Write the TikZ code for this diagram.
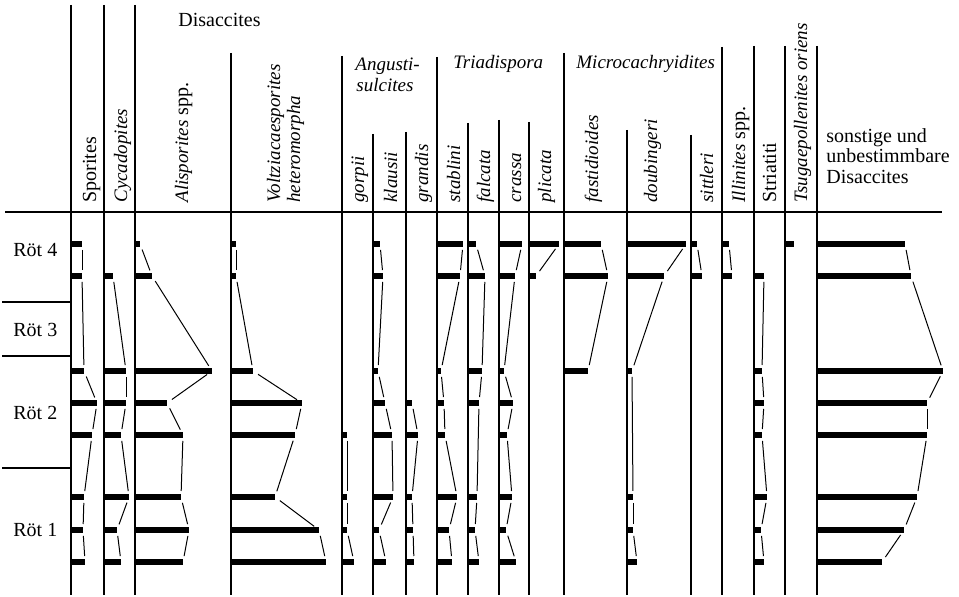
\documentclass[tikz,border=0pt]{standalone}
\usepackage{fontspec}
\setmainfont{Liberation Serif}

% y positions of the eight sample levels
\def\levels{{244,276,371,403,435,497,530,562}}

% italic taxon names, set a bit smaller
\newcommand{\gen}[1]{{\fontsize{9.5}{11}\selectfont\itshape #1}}

% one taxon profile: column x, list of level/length
\newcommand{\taxon}[2]{%
  \foreach \lv/\len [count=\i, remember=\lv as \plv (initially 1), remember=\len as \plen (initially 0)] in {#2} {
    \pgfmathsetmacro{\yy}{\levels[\lv-1]}
    \draw [bar] (#1,\yy) -- ++(\len,0);
    \ifnum\i>1
      \pgfmathsetmacro{\pyy}{\levels[\plv-1]}
      \draw [link] (#1+\plen,\pyy) -- (#1+\len,\yy);
    \fi
  }}

\begin{document}
\begin{tikzpicture}[x=0.5pt, y=-0.5pt,
    rule/.style = {line width=0.75pt, black},
    bar/.style = {line width=3pt, black},
    link/.style = {line width=0.5pt, black, shorten <=3pt, shorten >=3pt},
    taxlab/.style = {rotate=90, anchor=base west, inner sep=0pt, font=\fontsize{10}{12}\selectfont},
    grouplab/.style = {anchor=base west, inner sep=0pt, font=\fontsize{10}{12}\selectfont}]
        \useasboundingbox (0,0) rectangle (959,597);

        % Columns
        \foreach \cx/\top in {71/5, 104/5, 135/5, 231/53, 342/56, 373/134, 406/132, 437/57, 468/123,
            499/120, 529/122, 564/53, 627/130, 691/135, 722/47, 754/46, 785/46, 817/46}
            \draw [rule] (\cx,\top) -- (\cx,595);
        \draw [rule] (5,212) -- (942,212);
        \foreach \ry in {302, 356, 468}
            \draw [rule] (2,\ry) -- (71,\ry);

        % Labels
        \node (disacc) [grouplab] at (178,27) {Disaccites};
        \node (angusti) [grouplab] at (355,71) {\gen{Angusti-}};
        \node (sulcites) [grouplab] at (356,92) {\gen{sulcites}};
        \node (triadispora) [grouplab] at (453,69) {\gen{Triadispora}};
        \node (microcach) [grouplab] at (576,69) {\gen{Microcachryidites}};
        \node (sonst1) [grouplab] at (826,143) {sonstige und};
        \node (sonst2) [grouplab] at (826,163) {unbestimmbare};
        \node (sonst3) [grouplab] at (826,184) {Disaccites};

        \node (sporites) [taxlab] at (96,203) {Sporites};
        \node (cycado) [taxlab] at (127,203) {\gen{Cycadopites}};
        \node (alispor) [taxlab] at (188,203) {\gen{Alisporites} spp.};
        \node (voltzia) [taxlab] at (280,203) {\gen{Voltziacaesporites}};
        \node (heteromorpha) [taxlab] at (300,203) {\gen{heteromorpha}};
        \node (gorpii) [taxlab] at (364,203) {\gen{gorpii}};
        \node (klausii) [taxlab] at (397,203) {\gen{klausii}};
        \node (grandis) [taxlab] at (428,203) {\gen{grandis}};
        \node (stablini) [taxlab] at (460,203) {\gen{stablini}};
        \node (falcata) [taxlab] at (490,203) {\gen{falcata}};
        \node (crassa) [taxlab] at (521,203) {\gen{crassa}};
        \node (plicata) [taxlab] at (551,203) {\gen{plicata}};
        \node (fastid) [taxlab] at (598,203) {\gen{fastidioides}};
        \node (doubing) [taxlab] at (657,203) {\gen{doubingeri}};
        \node (sittleri) [taxlab] at (713,203) {\gen{sittleri}};
        \node (illinites) [taxlab] at (745,203) {\gen{Illinites} spp.};
        \node (striatiti) [taxlab] at (776,203) {Striatiti};
        \node (tsuga) [taxlab] at (807,203) {\gen{Tsugaepollenites oriens}};

        \node (roet4) [grouplab] at (13,257) {Röt 4};
        \node (roet3) [grouplab] at (13,337) {Röt 3};
        \node (roet2) [grouplab] at (13,420) {Röt 2};
        \node (roet1) [grouplab] at (13,537) {Röt 1};

        % Bars
        \taxon{71}{1/11, 2/11, 3/13, 4/26, 5/21, 6/13, 7/12, 8/14}
        \taxon{104}{2/9, 3/22, 4/22, 5/17, 6/25, 7/13, 8/17}
        \taxon{135}{1/5, 2/17, 3/77, 4/32, 5/48, 6/46, 7/54, 8/48}
        \taxon{231}{1/5, 2/5, 3/22, 4/71, 5/64, 6/44, 7/88, 8/95}
        \taxon{342}{5/5, 6/5, 7/5, 8/12}
        \taxon{373}{1/7, 2/10, 3/5, 4/12, 5/19, 6/20, 7/6, 8/13}
        \taxon{406}{4/6, 5/12, 6/6, 7/7, 8/8}
        \taxon{437}{1/26, 2/23, 3/4, 4/7, 5/8, 6/20, 7/12, 8/15}
        \taxon{468}{1/8, 2/17, 3/14, 4/11, 6/9, 7/7, 8/11}
        \taxon{499}{1/23, 2/16, 3/5, 4/14, 5/8, 6/13, 7/7, 8/17}
        \taxon{529}{1/30, 2/7}
        \taxon{564}{1/37, 2/44, 3/24}
        \taxon{627}{1/59, 2/37, 3/5, 6/6, 7/6, 8/10}
        \taxon{691}{1/6, 2/11}
        \taxon{722}{1/7, 2/10}
        \taxon{754}{2/10, 3/8, 4/10, 5/8, 6/13, 7/7, 8/10}
        \taxon{785}{1/9}
        \taxon{817}{1/88, 2/94, 3/126, 4/110, 5/110, 6/100, 7/87, 8/65}
    \end{tikzpicture}
\end{document}
